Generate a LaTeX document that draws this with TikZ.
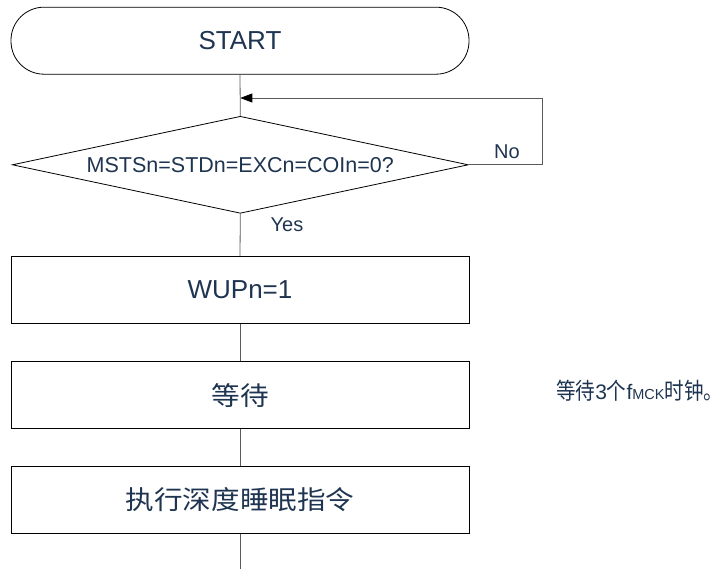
\documentclass[tikz,border=0pt]{standalone}
\usepackage{fontspec}
\setmainfont{Liberation Sans}
\newfontfamily\cjk[FakeStretch=1.1]{Noto Sans CJK SC}
\newfontfamily\cjknote[FakeStretch=0.85]{Noto Sans CJK SC}
\usetikzlibrary{shapes.geometric,arrows.meta}
\definecolor{txtblue}{RGB}{30,52,80}
\definecolor{lnk}{RGB}{90,90,90}

\begin{document}
\begin{tikzpicture}[x=1pt,y=-1pt,
    box/.style={draw, line width=0.8pt, minimum width=458pt, minimum height=67pt, inner sep=0pt, text=txtblue},
    terminal/.style={box, rounded corners=33pt},
    decision/.style={draw, line width=0.8pt, diamond, aspect=4.7, minimum width=456pt, minimum height=97pt, inner sep=0pt, text=txtblue},
    flow/.style={draw=lnk, line width=0.8pt},
    lbl/.style={text=txtblue, font=\fontsize{20}{24}\selectfont}]
    \useasboundingbox (0,0) rectangle (725,569);

    \node[terminal, font=\fontsize{26}{30}\selectfont] (start) at (240,40.7) {START};
    \node[decision, font=\fontsize{21.5}{25}\selectfont] (check) at (240.3,164.8) {MSTSn=STDn=EXCn=COIn=0?};
    \node[box, font=\fontsize{26}{30}\selectfont] (wup) at (240,289.8) {WUPn=1};
    \node[box, font=\fontsize{26}{30}\cjk] (wait) at (240,395.3) {等待};
    \node[box, font=\fontsize{26}{30}\cjk] (sleep) at (240,500) {执行深度睡眠指令};
    \node[anchor=west, inner sep=0pt, text=txtblue, font=\fontsize{21}{25}\selectfont] (note) at (556,391)
        {{\fontsize{23}{27}\cjknote 等待}3{\fontsize{23}{27}\cjknote 个}f{\fontsize{14.5}{17}\selectfont MCK}{\fontsize{23}{27}\cjknote 时钟。}};

    \coordinate (merge) at (240.3,98);
    \coordinate (tail) at (240,569);

    \draw[flow] (start.south) -- (check.north);
    \draw[flow, -{Triangle[length=12pt,width=9pt,color=black]}] (check.east) -- ++(73.4,0) |- (merge);
    \draw[flow] (check.south) -- (wup.north);
    \draw[flow] (wup.south) -- (wait.north);
    \draw[flow] (wait.south) -- (sleep.north);
    \draw[flow] (sleep.south) -- (tail);

    \node[lbl] (no) at (507,152) {No};
    \node[lbl] (yes) at (287,225) {Yes};
\end{tikzpicture}
\end{document}
